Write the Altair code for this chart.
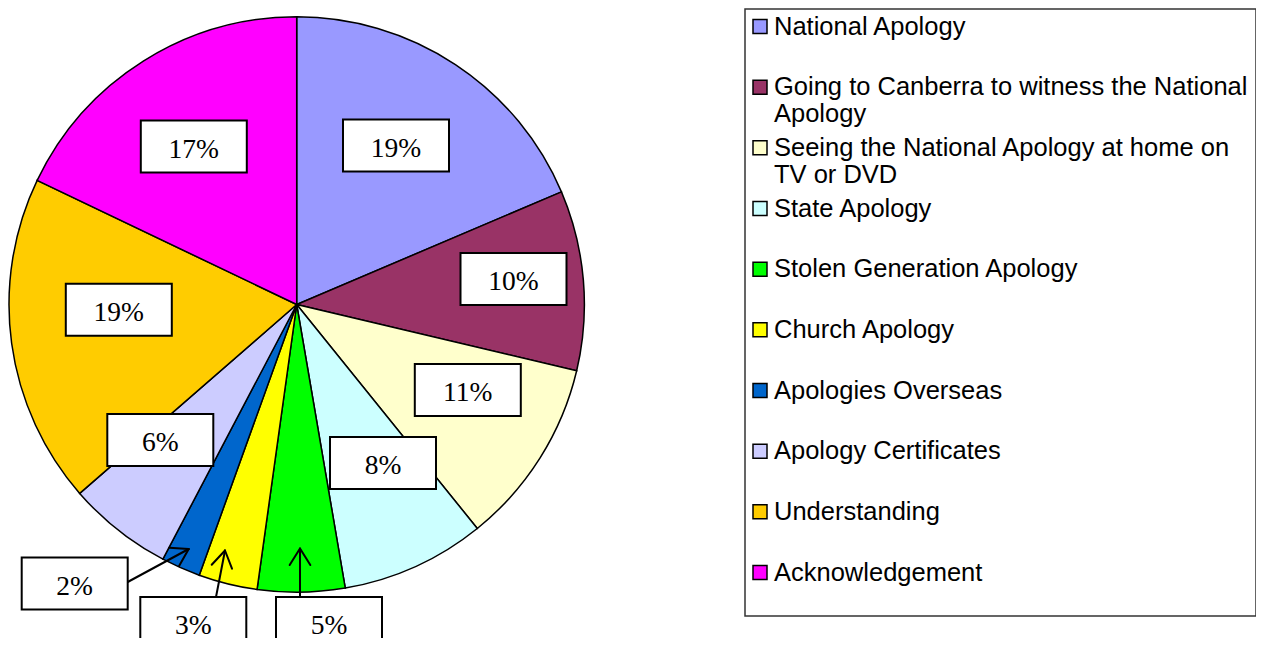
import math
import altair as alt
import pandas as pd

# ---------------- data ----------------
CATEGORIES = [
    "National Apology",
    "Going to Canberra to witness the National Apology",
    "Seeing the National Apology at home on TV or DVD",
    "State Apology",
    "Stolen Generation Apology",
    "Church Apology",
    "Apologies Overseas",
    "Apology Certificates",
    "Understanding",
    "Acknowledgement",
]
LEGEND_TEXT = [
    "National Apology",
    "Going to Canberra to witness the National\nApology",
    "Seeing the National Apology at home on\nTV or DVD",
    "State Apology",
    "Stolen Generation Apology",
    "Church Apology",
    "Apologies Overseas",
    "Apology Certificates",
    "Understanding",
    "Acknowledgement",
]
# slice shares (percent)
SHARES = [18.6, 10.1, 10.5, 8.1, 4.9, 3.3, 2.2, 5.9, 18.5, 17.9]
# percentage labels as printed on the chart
PCT_LABELS = ["19%", "10%", "11%", "8%", "5%", "3%", "2%", "6%", "19%", "17%"]
COLORS = ["#9999FF", "#993366", "#FFFFCC", "#CCFFFF", "#00FF00",
          "#FFFF00", "#0066CC", "#CCCCFF", "#FFCC00", "#FF00FF"]

# ---------------- layout (page pixel coordinates) ----------------
M = 8  # page margin
W, H = 1248, 630
PIE_CX, PIE_CY, PIE_R = 296.7, 304.5, 287.7
BOX_W, BOX_H = 106, 52
# label box centres (annotation layout), same order as CATEGORIES
LABEL_CENTERS = [(396, 145.5), (513.5, 279), (467.8, 390), (383, 463),
                 (329, 623), (193.3, 623), (74.7, 583.5), (160.3, 440),
                 (118.8, 309.7), (193.8, 146.5)]
# arrows for small slices: (tail, tip)
ARROWS = [((300, 597), (300, 548.5)),
          ((216, 597), (225, 550.5)),
          ((127.7, 582), (188.7, 549))]
LEG_X0, LEG_Y0, LEG_X1, LEG_Y1 = 745, 9, 1256, 616
LEG_BASE0, LEG_STEP = 34.5, 60.67

def px(v):
    return v - M

pie_df = pd.DataFrame({"cat": CATEGORIES, "value": SHARES,
                       "idx": list(range(len(CATEGORIES)))})

pie = alt.Chart(pie_df).mark_arc(radius=PIE_R, stroke="black", strokeWidth=1.5).encode(
    theta=alt.Theta("value:Q", stack=True),
    order=alt.Order("idx:Q"),
    color=alt.Color("cat:N", scale=alt.Scale(domain=CATEGORIES, range=COLORS), legend=None),
    x=alt.value(px(PIE_CX)),
    y=alt.value(px(PIE_CY)),
)

# arrows
arrow_rows = []
for (tx, ty), (hx, hy) in ARROWS:
    arrow_rows.append({"x": px(tx), "y": px(ty), "x2": px(hx), "y2": px(hy)})
    back = math.atan2(ty - hy, tx - hx)
    for d in (-32, 32):
        a = back + math.radians(d)
        arrow_rows.append({"x": px(hx), "y": px(hy),
                           "x2": px(hx + 19.5 * math.cos(a)), "y2": px(hy + 19.5 * math.sin(a))})
arrows = alt.Chart(pd.DataFrame(arrow_rows)).mark_rule(
    color="black", strokeWidth=2, strokeCap="round").encode(
    x=alt.X("x:Q", scale=None), y=alt.Y("y:Q", scale=None),
    x2="x2:Q", y2="y2:Q",
)

lab_df = pd.DataFrame({
    "label": PCT_LABELS,
    "cx": [px(c[0]) for c in LABEL_CENTERS],
    "cy": [px(c[1]) for c in LABEL_CENTERS],
})
lab_df["x0"] = lab_df["cx"] - BOX_W / 2
lab_df["x1"] = lab_df["cx"] + BOX_W / 2
lab_df["y0"] = lab_df["cy"] - BOX_H / 2
lab_df["y1"] = lab_df["cy"] + BOX_H / 2
lab_df["ty"] = lab_df["cy"] + 11.3

boxes = alt.Chart(lab_df).mark_rect(fill="white", stroke="black", strokeWidth=2).encode(
    x=alt.X("x0:Q", scale=None), x2="x1:Q",
    y=alt.Y("y0:Q", scale=None), y2="y1:Q",
)
labels = alt.Chart(lab_df).mark_text(
    font="Liberation Serif", fontSize=27.5, color="black", baseline="alphabetic", align="center"
).encode(
    x=alt.X("cx:Q", scale=None), y=alt.Y("ty:Q", scale=None), text="label:N",
)

# legend
leg_frame = alt.Chart(pd.DataFrame({"x": [px(LEG_X0)], "x2": [px(LEG_X1)],
                                    "y": [px(LEG_Y0)], "y2": [px(LEG_Y1)]})).mark_rect(
    fill="white", stroke="#333333", strokeWidth=1.5).encode(
    x=alt.X("x:Q", scale=None), x2="x2:Q", y=alt.Y("y:Q", scale=None), y2="y2:Q",
)
leg_df = pd.DataFrame({"cat": CATEGORIES, "text": LEGEND_TEXT})
leg_df["base"] = [px(LEG_BASE0 + i * LEG_STEP) for i in range(len(CATEGORIES))]
leg_df["sy0"] = leg_df["base"] - 15
leg_df["sy1"] = leg_df["base"] - 1
leg_df["sx0"] = px(753)
leg_df["sx1"] = px(767)
leg_df["tx"] = px(774)

swatches = alt.Chart(leg_df).mark_rect(stroke="black", strokeWidth=1.5).encode(
    x=alt.X("sx0:Q", scale=None), x2="sx1:Q",
    y=alt.Y("sy0:Q", scale=None), y2="sy1:Q",
    color=alt.Color("cat:N", scale=alt.Scale(domain=CATEGORIES, range=COLORS), legend=None),
)
leg_text = alt.Chart(leg_df).mark_text(
    font="Liberation Sans", fontSize=25.5, color="black", align="left",
    baseline="alphabetic", lineBreak="\n", lineHeight=27,
).encode(
    x=alt.X("tx:Q", scale=None), y=alt.Y("base:Q", scale=None), text="text:N",
)

chart = alt.layer(pie, arrows, boxes, labels, leg_frame, swatches, leg_text).properties(
    width=W, height=H, padding=0, autosize=alt.AutoSizeParams(type="none"),
    background="white",
).configure_view(stroke=None)

chart.save("out.html", embed_options={"renderer": "svg", "actions": False})
